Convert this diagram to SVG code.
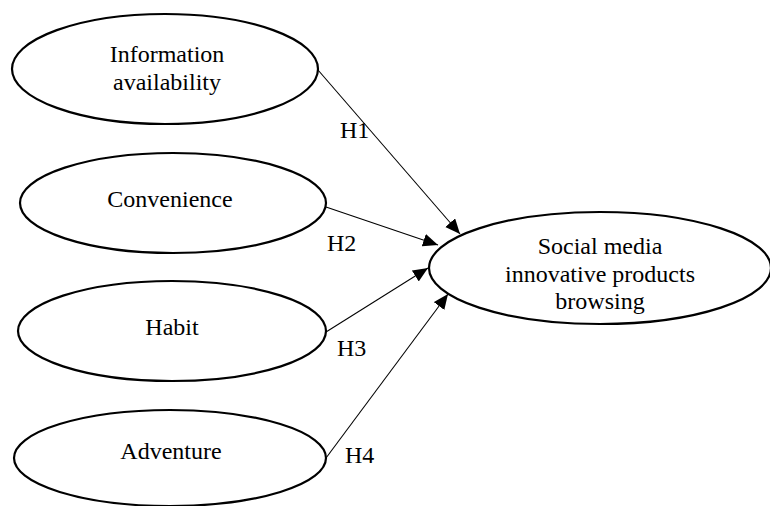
<svg xmlns="http://www.w3.org/2000/svg" width="770" height="506" viewBox="0 0 770 506">
  <style>
    .node ellipse { fill: #ffffff; stroke: #000000; stroke-width: 2.2; }
    .node text, .label { font-family: "Liberation Serif", "Times New Roman", serif; font-size: 24px; fill: #000000; }
    .node text { text-anchor: middle; }
    .edge { stroke: #000000; stroke-width: 1.1; fill: none; marker-end: url(#arrow); }
  </style>
  <defs>
    <marker id="arrow" markerUnits="userSpaceOnUse" markerWidth="16" markerHeight="14" refX="15" refY="6.5" orient="auto">
      <path d="M0,0 L15,6.5 L0,13 z" fill="#000000"/>
    </marker>
  </defs>
  <rect width="770" height="506" fill="#ffffff"/>

  <g id="connectors">
    <line class="edge" x1="318" y1="70" x2="460" y2="234"/>
    <line class="edge" x1="326" y1="207" x2="438" y2="245"/>
    <line class="edge" x1="326" y1="332" x2="428" y2="268"/>
    <line class="edge" x1="326" y1="458" x2="448" y2="294"/>
    <text class="label" x="340" y="138">H1</text>
    <text class="label" x="327" y="251">H2</text>
    <text class="label" x="337" y="356">H3</text>
    <text class="label" x="345" y="463">H4</text>
  </g>

  <g id="information-availability" class="node">
    <ellipse cx="165" cy="69" rx="153" ry="55"/>
    <text x="167" y="62">Information</text>
    <text x="167" y="90">availability</text>
  </g>

  <g id="convenience" class="node">
    <ellipse cx="173" cy="203" rx="153" ry="50"/>
    <text x="170" y="207">Convenience</text>
  </g>

  <g id="habit" class="node">
    <ellipse cx="172" cy="331" rx="154" ry="50"/>
    <text x="172" y="335">Habit</text>
  </g>

  <g id="adventure" class="node">
    <ellipse cx="170" cy="458" rx="156" ry="48"/>
    <text x="171" y="459">Adventure</text>
  </g>

  <g id="social-media-browsing" class="node">
    <ellipse cx="600" cy="268" rx="171" ry="56"/>
    <text x="600" y="254">Social media</text>
    <text x="600" y="282">innovative products</text>
    <text x="600" y="309">browsing</text>
  </g>
</svg>
